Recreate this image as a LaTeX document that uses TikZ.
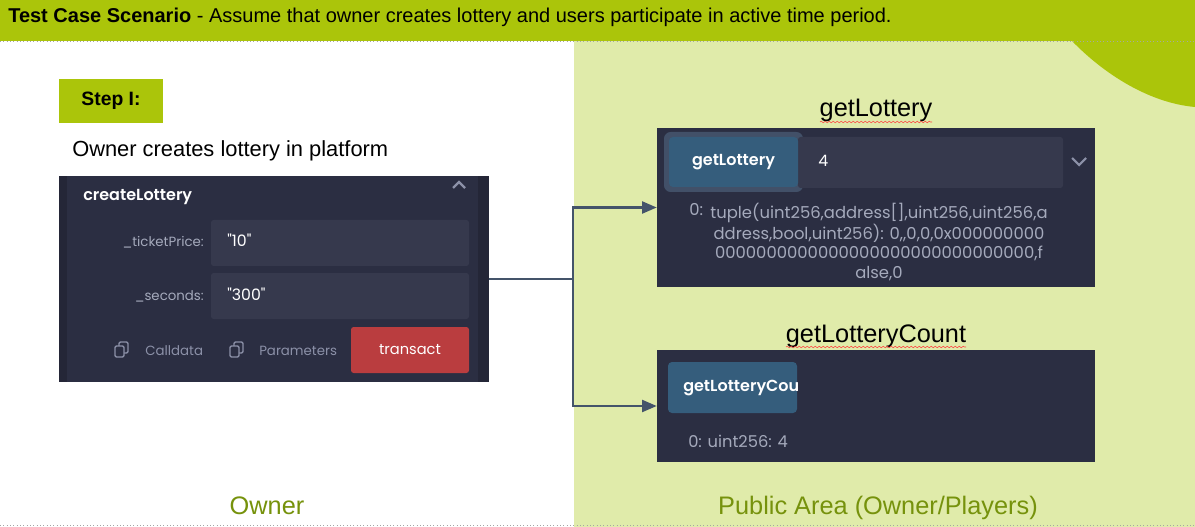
\documentclass[tikz,border=0pt]{standalone}
\usepackage{fontspec}
\setmainfont{Liberation Sans}
\newfontfamily\uifont{Poppins}[BoldFont={Poppins SemiBold}]
\usetikzlibrary{arrows.meta,decorations.pathmorphing}
\definecolor{bandgreen}{RGB}{171,197,10}
\definecolor{areagreen}{RGB}{224,235,170}
\definecolor{olivetext}{RGB}{118,146,12}
\definecolor{paneledge}{RGB}{36,38,55}
\definecolor{paneldark}{RGB}{43,46,66}
\definecolor{inputfill}{RGB}{54,57,77}
\definecolor{btnblue}{RGB}{53,93,124}
\definecolor{btnhalo}{RGB}{66,80,104}
\definecolor{transred}{RGB}{186,61,63}
\definecolor{uigray}{RGB}{165,170,188}
\definecolor{icongray}{RGB}{140,145,168}
\definecolor{linkblue}{RGB}{68,84,106}
\tikzset{
  panel/.style={fill=paneledge, inner sep=0pt},
  btn/.style={fill=btnblue, rounded corners=3pt, inner sep=0pt, text=white, font=\uifont\bfseries\fontsize{12}{14}\selectfont},
  uilabel/.style={inner sep=0pt, text=uigray, font=\uifont\fontsize{10}{12}\selectfont},
  uivalue/.style={inner sep=0pt, text=white, font=\uifont\fontsize{11.8}{14}\selectfont},
  conn/.style={draw=linkblue, line width=1.6pt},
  spell/.style={draw=red!75, line width=0.4pt, decorate, decoration={snake, amplitude=0.6pt, segment length=3pt}},
}
\begin{document}
\begin{tikzpicture}[x=0.75pt,y=-0.75pt]
%%%%% BACKGROUND %%%%%
\useasboundingbox (0,0) rectangle (1195,527);
\fill[white] (0,0) rectangle (1195,527);
\fill[areagreen] (574,41) rectangle (1195,527);
\fill[bandgreen] (0,0) rectangle (1195,41);
\fill[bandgreen] (1072,41) .. controls (1105,75) and (1150,103) .. (1195,107) -- (1195,41) -- cycle;
\draw[gray!70, dotted, line width=0.5pt] (0,41) -- (1195,41);
\draw[gray!70, dotted, line width=0.5pt] (0,525) -- (1195,525);

\node[anchor=base west, inner sep=0pt, font=\fontsize{15}{18}\selectfont] (title) at (8,23) {\textbf{Test Case Scenario} - Assume that owner creates lottery and users participate in active time period.};

%%%%% OWNER SIDE %%%%%
\node[fill=bandgreen, minimum width=78pt, minimum height=33pt, inner sep=0pt, font=\bfseries\fontsize{14.5}{17}\selectfont] (step) at (111,101) {Step I:};
\node[anchor=base west, inner sep=0pt, font=\fontsize{16.4}{20}\selectfont] (task) at (72,157) {Owner creates lottery in platform};

\node[panel, minimum width=322.5pt, minimum height=154.5pt] (create) at (274,279) {};
\fill[paneldark] (67,176) rectangle (478,382);
\node[anchor=base west, inner sep=0pt, text=white, font=\uifont\bfseries\fontsize{12}{14}\selectfont] (createname) at (83,201) {createLottery};
\draw[icongray, line width=1.6pt] (453,188) -- (459,182) -- (465,188);

\node[fill=inputfill, rounded corners=2pt, minimum width=193.5pt, minimum height=34.5pt] (price) at (340,243) {};
\node[uilabel, anchor=base east] (pricelabel) at (204,247) {\_ticketPrice:};
\node[uivalue, anchor=base west] (priceval) at (227,247) {"10"};
\node[fill=inputfill, rounded corners=2pt, minimum width=193.5pt, minimum height=34.5pt] (secs) at (340,296) {};
\node[uilabel, anchor=base east] (secslabel) at (204,300) {\_seconds:};
\node[uivalue, anchor=base west] (secsval) at (227,300) {"300"};

\draw[icongray, line width=1pt, rounded corners=1pt] (119,342) rectangle (128,353);
\draw[icongray, fill=paneldark, line width=1pt, rounded corners=1pt] (115,346) rectangle (124,357);
\node[uilabel, text=icongray, anchor=base west] (calldata) at (145,355) {Calldata};
\draw[icongray, line width=1pt, rounded corners=1pt] (234,342) rectangle (243,353);
\draw[icongray, fill=paneldark, line width=1pt, rounded corners=1pt] (230,346) rectangle (239,357);
\node[uilabel, text=icongray, anchor=base west] (params) at (259,355) {Parameters};
\node[fill=transred, rounded corners=2pt, minimum width=88.5pt, minimum height=34.5pt, text=white, font=\uifont\fontsize{11}{14}\selectfont] (transact) at (410,350) {transact};

%%%%% PUBLIC SIDE %%%%%
\node[anchor=base, inner sep=0pt, font=\fontsize{19}{23}\selectfont] (getltitle) at (876,117) {getLottery};
\draw[spell] (820,122) -- (932,122);
\node[panel, fill=paneldark, minimum width=328.5pt, minimum height=119.25pt] (getl) at (876,207.5) {};
\fill[btnhalo, rounded corners=5pt] (664,132) rectangle (803,192);
\fill[inputfill, rounded corners=2pt] (798,137) rectangle (1063,188);
\node[btn, minimum width=96.75pt, minimum height=37.5pt] (getlbtn) at (733.5,162) {getLottery};
\node[uivalue, anchor=base west] (getlarg) at (818,167) {4};
\draw[icongray, line width=1.6pt] (1072,158) -- (1079,165) -- (1086,158);
\node[uilabel, anchor=base west, font=\uifont\fontsize{12.3}{14.5}\selectfont] (getlkey) at (689,216) {0:};
\node[uilabel, anchor=north, align=center, font=\uifont\fontsize{12.3}{14.6}\selectfont] (getlout) at (879,203) {tuple(uint256,address[],uint256,uint256,a\\ddress,bool,uint256): 0,,0,0,0x000000000\\0000000000000000000000000000000,f\\alse,0};

\node[anchor=base, inner sep=0pt, font=\fontsize{19}{23}\selectfont] (getctitle) at (876,342) {getLotteryCount};
\draw[spell] (786,347) -- (966,347);
\node[panel, fill=paneldark, minimum width=328.5pt, minimum height=84pt] (getc) at (876,406) {};
\node[btn, minimum width=96.75pt, minimum height=38.25pt] (getcbtn) at (732.5,387.5) {};
\begin{scope}
  \clip (668,362) rectangle (797,413);
  \node[btn, fill=none, anchor=west] (getcname) at (683,388) {getLotteryCount};
\end{scope}
\node[uilabel, anchor=base west, font=\uifont\fontsize{12.2}{14}\selectfont] (getcout) at (688,447) {0: uint256: 4};

%%%%% CONNECTOR %%%%%
\coordinate (split) at (573,279);
\draw[conn] (create.east) -- (split);
\draw[conn, -{Triangle[length=11pt,width=9pt]}] (split) |- (getl.west);
\draw[conn, -{Triangle[length=11pt,width=9pt]}] (split) |- (getc.west);

%%%%% FOOTER %%%%%
\node[anchor=base, inner sep=0pt, text=olivetext, font=\fontsize{19}{23}\selectfont] (owner) at (267,514) {Owner};
\node[anchor=base, inner sep=0pt, text=olivetext, font=\fontsize{19}{23}\selectfont] (public) at (878,514) {Public Area (Owner/Players)};
\end{tikzpicture}
\end{document}
